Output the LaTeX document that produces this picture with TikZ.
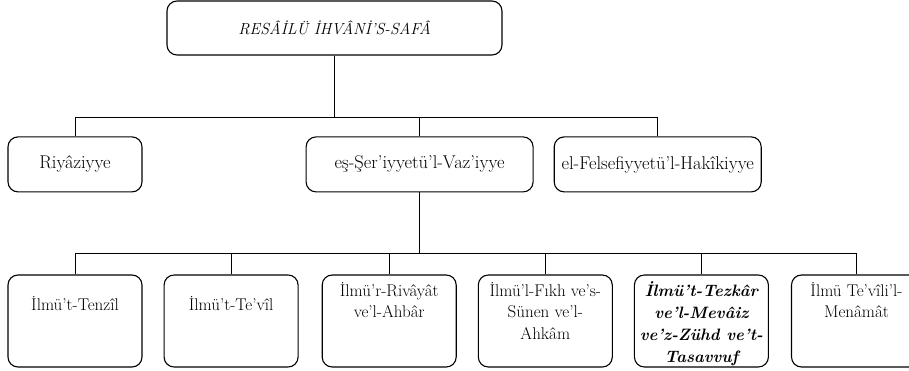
\documentclass[tikz,border=0pt]{standalone}
\usepackage{fontspec}
\usetikzlibrary{positioning}

\begin{document}
\begin{tikzpicture}[x=1pt, y=-1pt,
    font=\fontsize{17}{21.7}\selectfont,
    rootbox/.style={rectangle, draw=black, line width=1.1pt, rounded corners=10pt, minimum width=335pt, minimum height=54pt, inner sep=0pt, font=\fontsize{16}{20}\selectfont\itshape},
    midbox/.style={rectangle, draw=black, line width=1.1pt, rounded corners=10pt, minimum height=55pt, inner sep=0pt, font=\fontsize{18.5}{22}\selectfont},
    leafbox/.style={rectangle, draw=black, line width=1.1pt, rounded corners=10pt, minimum width=134pt, minimum height=92pt, inner sep=0pt,
        execute at begin node={\begin{minipage}[c][78pt][t]{130pt}\centering},
        execute at end node={\end{minipage}}},
    bus/.style={line width=0.8pt}]
\useasboundingbox (0,0) rectangle (909,371);
			\node[rootbox] (risale) at (334.5,28) {RESÂİLÜ İHVÂNİ’S-SAFÂ};
			\node[leafbox] (tenzil) at (75,321) {\vspace*{14pt}İlmü’t-Tenzîl};
			\node[leafbox] (tevil) [right=21pt of tenzil] {\vspace*{14pt}İlmü’t-Te’vîl};
			\node[leafbox] (rivayat) [right=23pt of tevil] {İlmü’r-Rivâyât\\ve’l-Ahbâr};
			\node[leafbox] (fikh) [right=21pt of rivayat] {İlmü’l-Fıkh ve’s-\\Sünen ve’l-\\Ahkâm};
			\node[leafbox] (tezkar) [right=21pt of fikh] {\fontsize{16.5}{21.7}\selectfont\bfseries\itshape İlmü’t-Tezkâr\\ve’l-Mevâiz\\ve’z-Zühd ve’t-\\Tasavvuf};
			\node[leafbox, minimum width=124pt] (menamat) [right=22pt of tezkar] {İlmü Te’vîli’l-\\Menâmât};
			\node[midbox, minimum width=134pt] (riyaziyye) [above=82pt of tenzil] {Riyâziyye};
			\node[midbox, minimum width=227pt] (seriyye) [right=163pt of riyaziyye] {eş-Şer’iyyetü’l-Vaz’iyye};
			\node[midbox, minimum width=207pt] (felsefe) [right=20pt of seriyye] {el-Felsefiyyetü’l-Hakîkiyye};
			% first level
			\path (risale.south) ++(0,62) coordinate (bus1);
			\draw[bus] (risale.south) -- (bus1);
			\draw[bus] (riyaziyye.north) |- (bus1) -| (felsefe.north);
			\draw[bus] (seriyye.north) -- (seriyye.north |- bus1);
			% second level
			\path (seriyye.south) ++(0,61) coordinate (bus2);
			\draw[bus] (seriyye.south) -- (bus2);
			\draw[bus] (tenzil.north) |- (bus2) -| (menamat.north);
			\draw[bus] (tevil.north) -- (tevil.north |- bus2);
			\draw[bus] (rivayat.north) -- (rivayat.north |- bus2);
			\draw[bus] (fikh.north) -- (fikh.north |- bus2);
			\draw[bus] (tezkar.north) -- (tezkar.north |- bus2);
		\end{tikzpicture}
\end{document}
